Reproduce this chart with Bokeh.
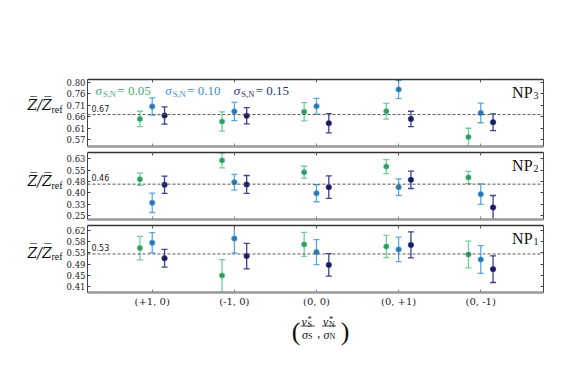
from bokeh.plotting import figure
from bokeh.layouts import column, row
from bokeh.models import (Range1d, FixedTicker, LinearAxis, Span, Label, Arrow,
                          NumeralTickFormatter, CustomJSTickFormatter, ColumnDataSource)
from bokeh.embed import file_html
from bokeh.resources import INLINE

# ---------------- data ----------------
CATEGORIES = ["(+1, 0)", "(-1, 0)", "(0, 0)", "(0, +1)", "(0, -1)"]
SIGMA_LABELS = ["0.05", "0.10", "0.15"]
PANEL_INDEX = ["3", "2", "1"]          # NP_k, top to bottom
REF_VALUES = [0.67, 0.46, 0.53]
REF_LABELS = ["0.67", "0.46", "0.53"]

NP3_S005 = [0.652, 0.641, 0.682, 0.684, 0.576]
NP3_S005_ERR = [0.032, 0.040, 0.038, 0.033, 0.037]
NP3_S010 = [0.704, 0.683, 0.705, 0.775, 0.677]
NP3_S010_ERR = [0.036, 0.038, 0.033, 0.038, 0.041]
NP3_S015 = [0.666, 0.665, 0.634, 0.652, 0.638]
NP3_S015_ERR = [0.036, 0.034, 0.040, 0.032, 0.035]

NP2_S005 = [0.493, 0.619, 0.540, 0.578, 0.505]
NP2_S005_ERR = [0.041, 0.050, 0.040, 0.047, 0.041]
NP2_S010 = [0.335, 0.473, 0.399, 0.440, 0.393]
NP2_S010_ERR = [0.065, 0.053, 0.057, 0.056, 0.069]
NP2_S015 = [0.456, 0.458, 0.440, 0.489, 0.304]
NP2_S015_ERR = [0.058, 0.060, 0.075, 0.058, 0.080]

NP1_S005 = [0.552, 0.449, 0.566, 0.558, 0.528]
NP1_S005_ERR = [0.044, 0.060, 0.045, 0.042, 0.050]
NP1_S010 = [0.572, 0.588, 0.537, 0.547, 0.509]
NP1_S010_ERR = [0.038, 0.054, 0.047, 0.046, 0.052]
NP1_S015 = [0.514, 0.522, 0.489, 0.564, 0.473]
NP1_S015_ERR = [0.033, 0.048, 0.042, 0.049, 0.050]

Y_TICKS_NP3 = [0.566, 0.6136, 0.6612, 0.7088, 0.7564, 0.804]
Y_TICKS_NP2 = [0.25, 0.326, 0.402, 0.478, 0.554, 0.63]
Y_TICKS_NP1 = [0.408, 0.45, 0.492, 0.534, 0.576, 0.618]
Y_RANGE_NP3 = (0.5368, 0.8165)
Y_RANGE_NP2 = (0.2232, 0.6722)
Y_RANGE_NP1 = (0.3855, 0.6368)

# ---------------- style / layout ----------------
PT_COLORS = ["#2e9960", "#2a77b0", "#171b5c"]
BAR_COLORS = ["#72d09c", "#5ba8dc", "#3d4190"]
TEXT_COLORS = ["#3db173", "#3a8fd0", "#2b2f78"]
OFFSETS = [-0.15, 0.0, 0.15]

YLAB_W = 63
BORDER_L = 22
FRAME_W = 458
BORDER_R = 12
FIG_W = BORDER_L + FRAME_W + BORDER_R
FRAME_H = 67
FRAME_TOPS = [79, 152, 225]      # page pixel of each frame top
FRAME_LEFT = YLAB_W + BORDER_L
X_START, X_END = -0.788, 4.764
PXU = FRAME_W / (X_END - X_START)
XLAB_TOP = 310
TOTAL_H = 350


def xd(px):
    return X_START + (px - FRAME_LEFT) / PXU


panels = [
    (Y_RANGE_NP3, Y_TICKS_NP3, [(NP3_S005, NP3_S005_ERR), (NP3_S010, NP3_S010_ERR), (NP3_S015, NP3_S015_ERR)]),
    (Y_RANGE_NP2, Y_TICKS_NP2, [(NP2_S005, NP2_S005_ERR), (NP2_S010, NP2_S010_ERR), (NP2_S015, NP2_S015_ERR)]),
    (Y_RANGE_NP1, Y_TICKS_NP1, [(NP1_S005, NP1_S005_ERR), (NP1_S010, NP1_S010_ERR), (NP1_S015, NP1_S015_ERR)]),
]


def blank(width, height, x0, x1, y0, y1):
    f = figure(width=width, height=height, x_range=Range1d(x0, x1), y_range=Range1d(y0, y1),
               output_backend="svg", toolbar_location=None, min_border=0,
               x_axis_location=None, y_axis_location=None, outline_line_color=None,
               background_fill_color="white", border_fill_color="white")
    f.grid.visible = False
    return f


# left label canvas: data coords == page pixels
ylab = blank(YLAB_W, TOTAL_H, 0, YLAB_W, TOTAL_H, 0)

x_range = Range1d(X_START, X_END)
cat_pos = list(range(len(CATEGORIES)))
figs = []
prev_end = 0
for i, (yr, yt, series) in enumerate(panels):
    top_b = FRAME_TOPS[i] - prev_end
    bot_b = 3 if i < len(panels) - 1 else XLAB_TOP - FRAME_TOPS[i] - FRAME_H
    h = top_b + FRAME_H + bot_b
    prev_end = FRAME_TOPS[i] + FRAME_H + bot_b
    ys, ye = yr
    upp = (ye - ys) / FRAME_H   # data units per pixel

    def yd(py, top=FRAME_TOPS[i], ye=ye, upp=upp):
        return ye - (py - top) * upp

    p = figure(width=FIG_W, height=h, x_range=x_range, y_range=Range1d(ys, ye),
               output_backend="svg", toolbar_location=None,
               min_border_left=BORDER_L, min_border_right=BORDER_R,
               min_border_top=top_b, min_border_bottom=bot_b,
               x_axis_location=None, y_axis_location=None,
               outline_line_color=None, background_fill_color="white",
               border_fill_color="white")
    p.grid.visible = False

    def hidden():
        return dict(major_tick_in=3, major_tick_out=0, minor_tick_in=0, minor_tick_out=0,
                    formatter=CustomJSTickFormatter(code="return ''"),
                    major_label_text_font_size="0px", major_label_standoff=0)

    ax_l = LinearAxis(ticker=FixedTicker(ticks=yt), formatter=NumeralTickFormatter(format="0.00"),
                      major_tick_in=3, major_tick_out=0, minor_tick_in=0, minor_tick_out=0,
                      axis_line_color="#444444", major_tick_line_color="#444444",
                      major_label_text_font="DejaVu Serif", major_label_text_font_size="8.5px",
                      major_label_text_color="#1a1a1a", major_label_standoff=2)
    p.add_layout(ax_l, "left")
    ax_r = LinearAxis(ticker=FixedTicker(ticks=yt), axis_line_color="#444444",
                      major_tick_line_color="#444444", **hidden())
    p.add_layout(ax_r, "right")
    ax_t = LinearAxis(ticker=FixedTicker(ticks=cat_pos), axis_line_color="#333333",
                      axis_line_width=1.6, major_tick_line_color="#555555", **hidden())
    p.add_layout(ax_t, "above")
    if i == len(panels) - 1:
        ax_b = LinearAxis(ticker=FixedTicker(ticks=cat_pos),
                          major_label_overrides={k: c for k, c in enumerate(CATEGORIES)},
                          major_tick_in=3, major_tick_out=0, minor_tick_in=0, minor_tick_out=0,
                          axis_line_color="#9a9a9a", axis_line_width=2.5,
                          major_tick_line_color="#888888",
                          major_label_text_font="DejaVu Serif", major_label_text_font_size="10px",
                          major_label_text_color="#1a1a1a", major_label_standoff=3)
    else:
        ax_b = LinearAxis(ticker=FixedTicker(ticks=cat_pos), axis_line_color="#9a9a9a",
                          axis_line_width=2.5, major_tick_line_color="#888888", **hidden())
    p.add_layout(ax_b, "below")

    ref = REF_VALUES[i]
    p.add_layout(Span(location=ref, dimension="width", line_color="#555555",
                      line_dash="3 2", line_width=1))
    p.add_layout(Label(x=xd(89), y=ref + 3 * upp, text=REF_LABELS[i], text_font="DejaVu Sans",
                       text_font_size="8px", text_color="#222222", text_baseline="bottom"))

    for k, (vals, errs) in enumerate(series):
        src = ColumnDataSource(dict(
            x=[c + OFFSETS[k] for c in cat_pos], y=vals,
            lo=[v - e for v, e in zip(vals, errs)], hi=[v + e for v, e in zip(vals, errs)]))
        p.segment(x0="x", y0="lo", x1="x", y1="hi", source=src,
                  line_color=BAR_COLORS[k], line_width=1.3)
        p.scatter(x="x", y="lo", marker="dash", size=6, line_color=BAR_COLORS[k],
                  line_width=1.3, source=src)
        p.scatter(x="x", y="hi", marker="dash", size=6, line_color=BAR_COLORS[k],
                  line_width=1.3, source=src)
        p.scatter(x="x", y="y", marker="circle", size=5.5, fill_color=PT_COLORS[k],
                  line_color=BAR_COLORS[k], line_width=0.7, source=src)

    # NP_k label
    top = FRAME_TOPS[i]
    p.add_layout(Label(x=xd(532), y=yd(top + 13), text="NP", text_align="right",
                       text_baseline="alphabetic", text_font="Liberation Serif",
                       text_font_size="16px", text_color="#111111"))
    p.add_layout(Label(x=xd(533), y=yd(top + 16), text=PANEL_INDEX[i],
                       text_baseline="alphabetic", text_font="Liberation Serif",
                       text_font_size="10px", text_color="#111111"))

    # y label  Z/Z_ref (on the left canvas, aligned with the 4th tick)
    tick_px = top + (ye - yt[3]) / upp
    ylab.add_layout(Label(x=27, y=tick_px, text="Z\u0305/Z\u0305", text_baseline="middle",
                          text_font="DejaVu Serif", text_font_style="italic",
                          text_font_size="14px", text_color="#111111"))
    ylab.add_layout(Label(x=51, y=tick_px + 4, text="ref", text_baseline="middle",
                          text_font="Liberation Serif", text_font_size="10px",
                          text_color="#111111"))

    # legend texts (top panel)
    if i == 0:
        for k, lab in enumerate(SIGMA_LABELS):
            x0 = [93, 163, 232][k]
            p.add_layout(Label(x=xd(x0), y=yd(90), text="\u03c3", text_font="Liberation Serif",
                               text_font_style="italic", text_font_size="13px",
                               text_color=TEXT_COLORS[k], text_baseline="alphabetic"))
            p.add_layout(Label(x=xd(x0 + 7.5), y=yd(93), text="S,N", text_font="Liberation Serif",
                               text_font_size="8.5px", text_color=TEXT_COLORS[k],
                               text_baseline="alphabetic"))
            p.add_layout(Label(x=xd(x0 + 22), y=yd(90), text="= " + lab, text_font="Liberation Serif",
                               text_font_size="13px", text_color=TEXT_COLORS[k],
                               text_baseline="alphabetic"))
    figs.append(p)

# x-axis label canvas: data coords == page pixels
xlab = blank(FIG_W, TOTAL_H - XLAB_TOP, YLAB_W, YLAB_W + FIG_W, TOTAL_H, XLAB_TOP)
tc = "#111111"


def lab(px, py, t, size, italic=False, align="left"):
    xlab.add_layout(Label(x=px, y=py, text=t, text_font="Liberation Serif",
                          text_font_style="italic" if italic else "normal",
                          text_font_size=size, text_color=tc, text_align=align,
                          text_baseline="alphabetic"))


lab(288, 331, "(", "26px", align="center")
lab(341, 331, ")", "26px", align="center")
for (x0, sub) in [(294, "S"), (317, "N")]:
    lab(x0, 321.5, "\u03bd", "12px", italic=True)
    lab(x0 + 6.5, 318, "*", "8.5px")
    lab(x0 + 6.5, 324, sub, "8px")
    lab(x0 + 0.5, 334, "\u03c3", "12px", italic=True)
    lab(x0 + 7, 336, sub, "8px")
    xlab.add_layout(Arrow(start=None, end=None, x_start=x0 - 1, x_end=x0 + 14,
                          y_start=325.5, y_end=325.5, line_width=0.8, line_color=tc))
lab(311, 332, ",", "12px")

layout = row(ylab, column(figs + [xlab], spacing=0), spacing=0)
open("out.html", "w").write(file_html(layout, INLINE))
